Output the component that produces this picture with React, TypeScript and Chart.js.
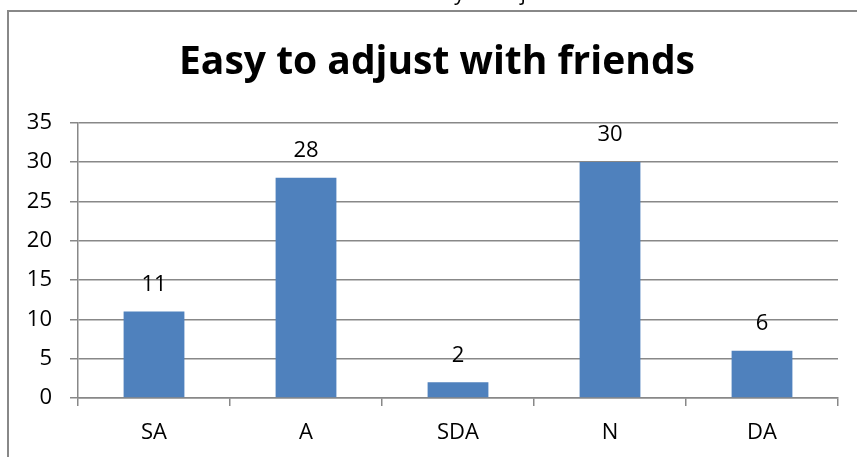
import React, { useEffect, useRef } from "react";
import { Chart, registerables } from "chart.js";

Chart.register(...registerables);

// Survey responses
const categories: string[] = ["SA", "A", "SDA", "N", "DA"];
const counts: number[] = [11, 28, 2, 30, 6];

// Value axis
const yMin = 0;
const yMax = 35;
const yStep = 5;

const chartTitle = "Easy to adjust with friends";
const captionAbove = "Easy to adjust";

const FONT = "'Open Sans', 'Noto Sans', sans-serif";
const BAR_COLOR = "#4F81BD";
const LINE_COLOR = "#888888";

// Draws the value above each bar
const valueLabels = {
  id: "valueLabels",
  afterDatasetsDraw(chart: any) {
    const ctx = chart.ctx;
    const meta = chart.getDatasetMeta(0);
    const data = chart.data.datasets[0].data as number[];
    ctx.save();
    ctx.font = `22px ${FONT}`;
    ctx.fillStyle = "#000";
    ctx.textAlign = "center";
    ctx.textBaseline = "middle";
    meta.data.forEach((bar: any, i: number) => {
      ctx.fillText(String(data[i]), bar.x, bar.y - 27);
    });
    ctx.restore();
  },
};

// Chart heading plus the clipped document caption above the frame
const headings = {
  id: "headings",
  afterDraw(chart: any) {
    const ctx = chart.ctx;
    ctx.save();
    ctx.fillStyle = "#000";
    ctx.textBaseline = "alphabetic";
    ctx.textAlign = "center";
    ctx.font = `bold 39px ${FONT}`;
    ctx.fillText(chartTitle, 437, 74);
    ctx.textAlign = "left";
    ctx.font = `21px ${FONT}`;
    ctx.fillText(captionAbove, 421, 0);
    ctx.restore();
  },
};

export default function App() {
  const canvasRef = useRef<HTMLCanvasElement | null>(null);

  useEffect(() => {
    if (!canvasRef.current) return;
    const chart = new Chart(canvasRef.current, {
      type: "bar",
      data: {
        labels: categories,
        datasets: [
          {
            data: counts,
            backgroundColor: BAR_COLOR,
            borderWidth: 0,
            barPercentage: 0.4,
            categoryPercentage: 1,
          },
        ],
      },
      options: {
        responsive: false,
        animation: false,
        layout: { padding: { top: 122.7, right: 19, left: 0, bottom: 0 } },
        plugins: {
          legend: { display: false },
          title: { display: false },
          tooltip: { enabled: false },
        },
        scales: {
          x: {
            offset: true,
            grid: {
              offset: true,
              drawOnChartArea: false,
              drawTicks: true,
              tickLength: 8,
              color: LINE_COLOR,
              lineWidth: 1.5,
            },
            border: { display: true, color: LINE_COLOR, width: 1.5 },
            ticks: {
              font: { family: FONT, size: 22 },
              color: "#000",
              padding: 14,
              maxRotation: 0,
            },
            afterFit: (s: any) => {
              s.height = 59;
            },
          },
          y: {
            min: yMin,
            max: yMax,
            grid: {
              color: LINE_COLOR,
              lineWidth: 1.5,
              drawTicks: true,
              tickLength: 8,
            },
            border: { display: true, color: LINE_COLOR, width: 1.5 },
            ticks: {
              stepSize: yStep,
              font: { family: FONT, size: 22 },
              color: "#000",
              padding: 18,
            },
            afterFit: (s: any) => {
              s.width = 78;
            },
          },
        },
      },
      plugins: [valueLabels, headings],
    });
    return () => chart.destroy();
  }, []);

  return (
    <div
      style={{
        position: "fixed",
        left: 0,
        top: 0,
        width: 857,
        height: 457,
        background: "#fff",
        overflow: "hidden",
      }}
    >
      <div
        style={{
          position: "absolute",
          left: 7,
          top: 10,
          width: 900,
          height: 500,
          borderLeft: `2px solid ${LINE_COLOR}`,
          borderTop: `2px solid ${LINE_COLOR}`,
        }}
      />
      <canvas
        ref={canvasRef}
        width={857}
        height={457}
        style={{ position: "absolute", left: 0, top: 0 }}
      />
    </div>
  );
}
